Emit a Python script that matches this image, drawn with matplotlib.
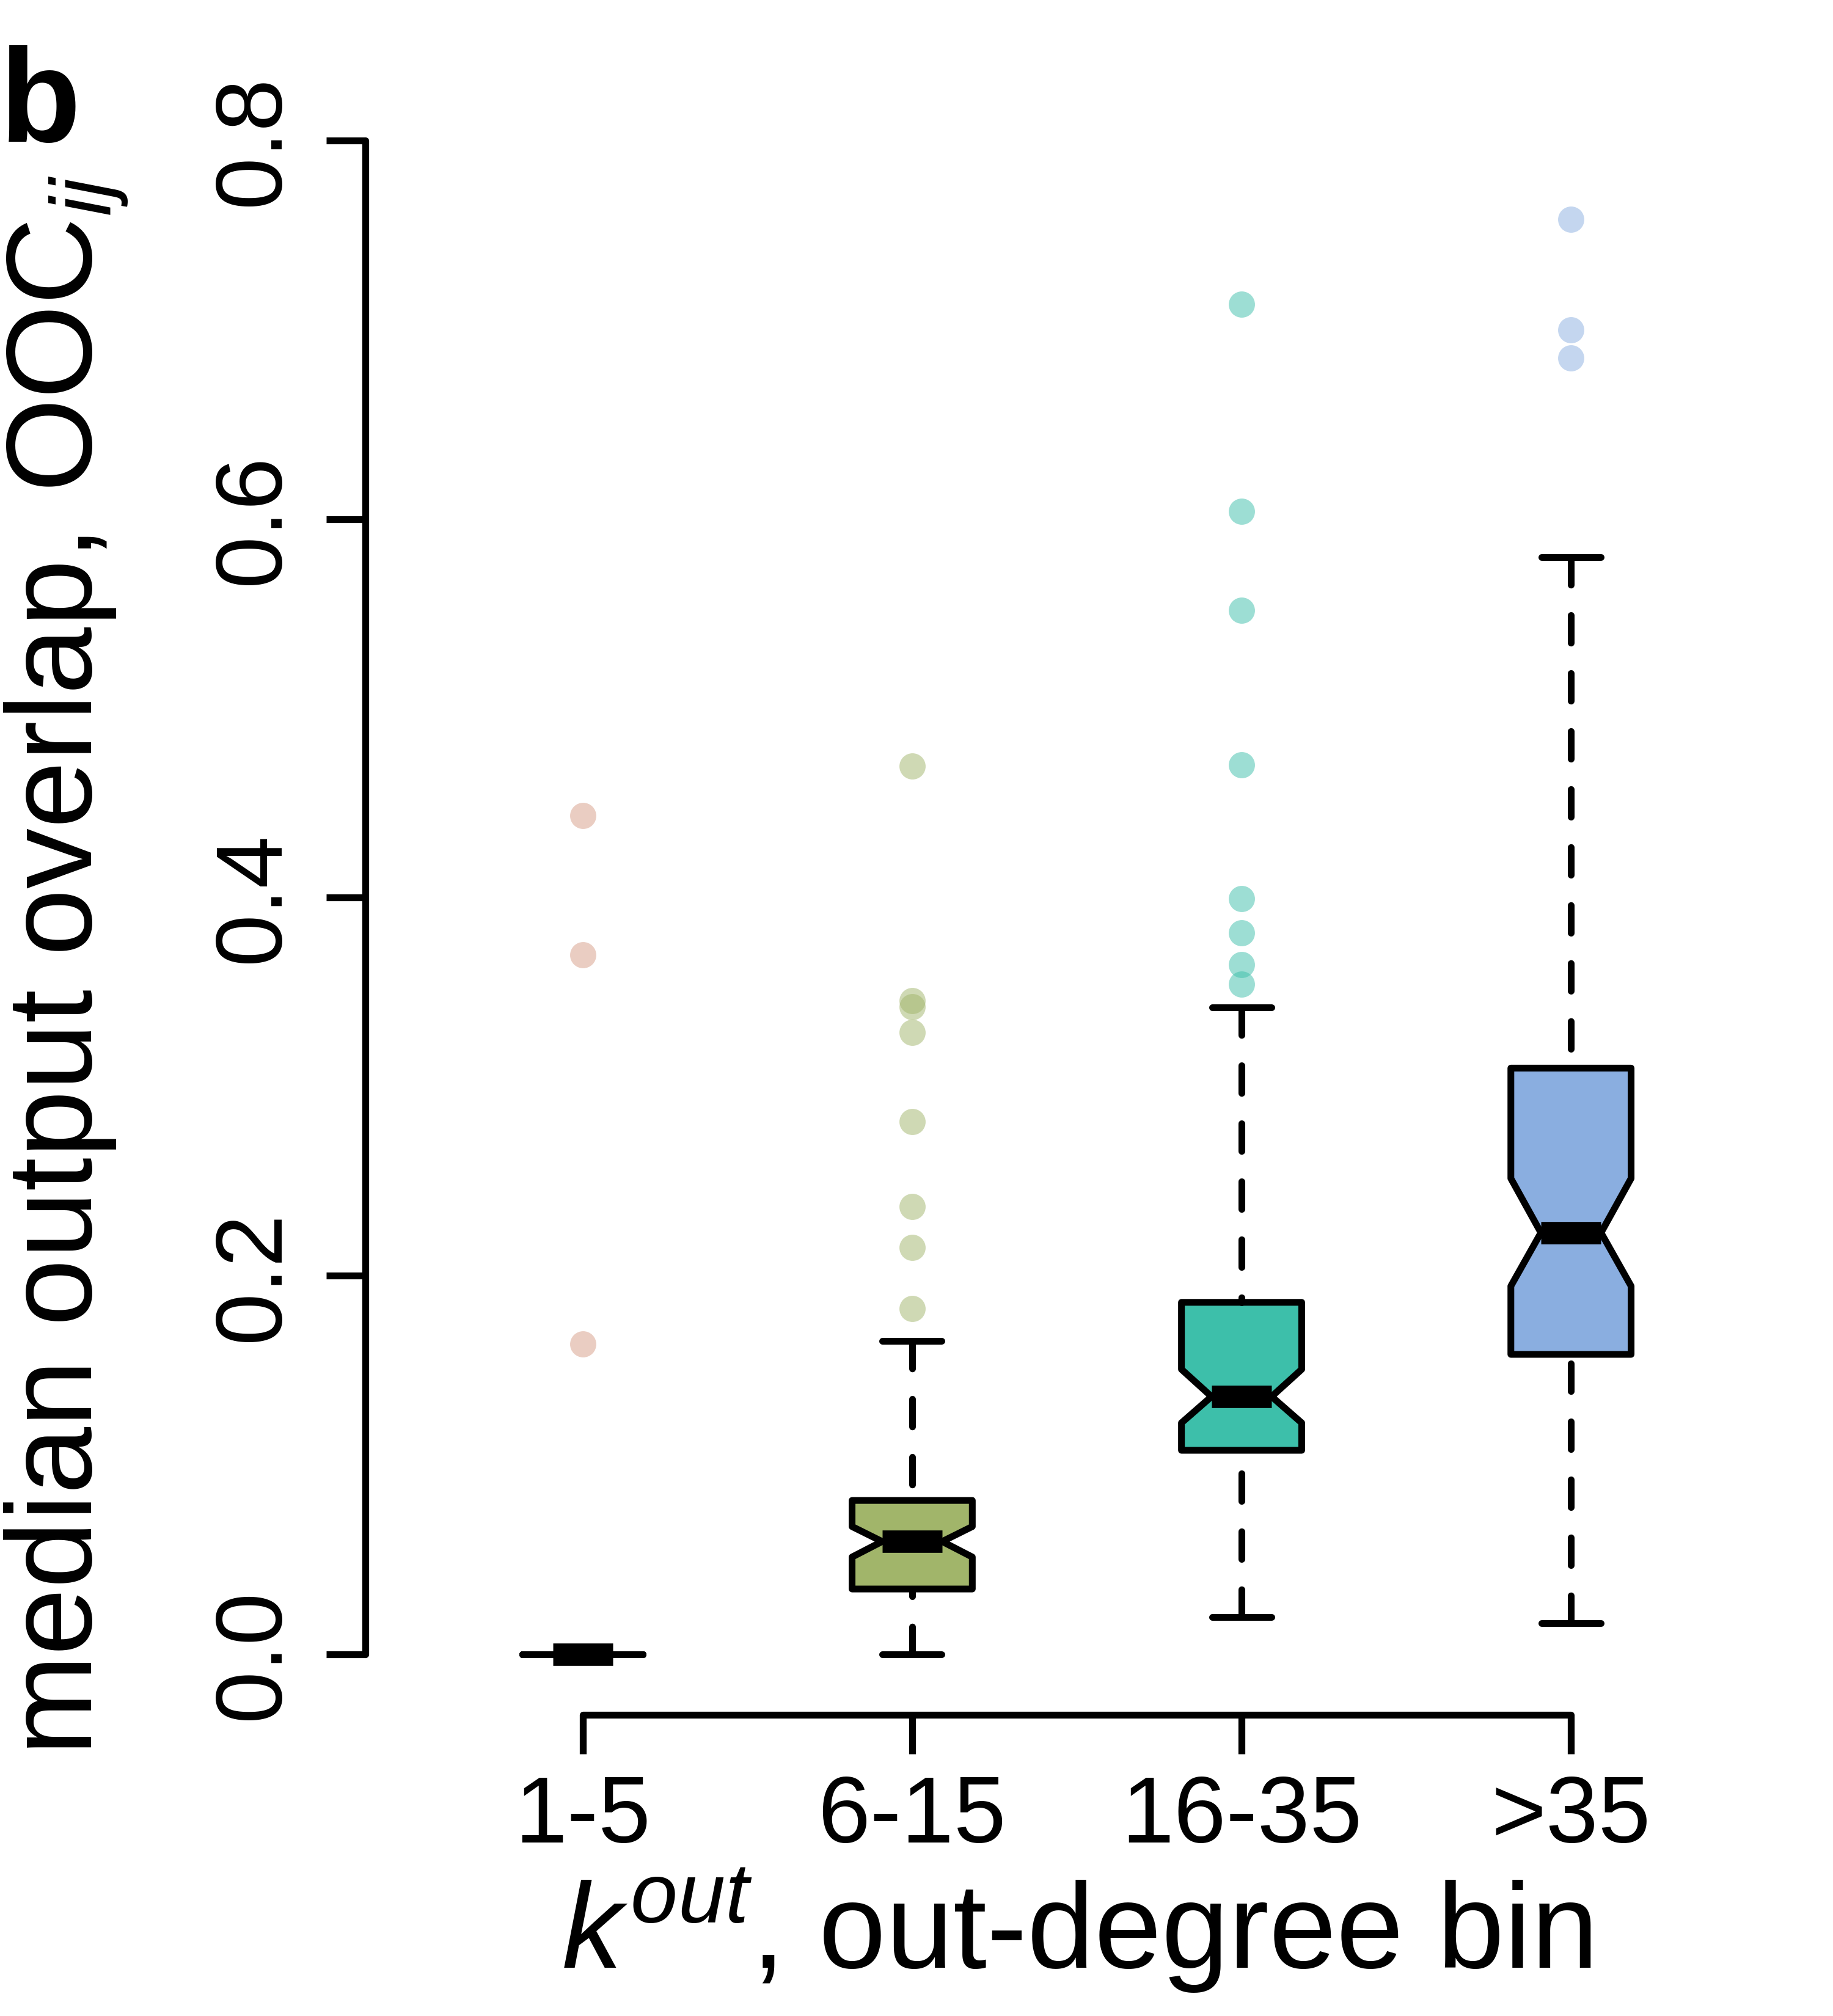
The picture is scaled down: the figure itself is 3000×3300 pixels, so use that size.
import matplotlib
matplotlib.use("Agg")
import matplotlib.pyplot as plt
from matplotlib.colors import to_rgba

plt.rcParams['font.family'] = ['Liberation Sans', 'DejaVu Sans']
plt.rcParams['mathtext.fontset'] = 'custom'
plt.rcParams['mathtext.rm'] = 'Liberation Sans'
plt.rcParams['mathtext.it'] = 'Liberation Sans:italic'
plt.rcParams['mathtext.bf'] = 'Liberation Sans:bold'

# ---- data ----
categories = ['1-5', '6-15', '16-35', '>35']
q1 = [0.0, 0.0345, 0.1078, 0.1585]
median = [0.0, 0.0596, 0.1362, 0.2228]
q3 = [0.0, 0.0813, 0.1860, 0.3098]
whisker_lo = [0.0, 0.0, 0.0197, 0.0165]
whisker_hi = [0.0, 0.1655, 0.3419, 0.5797]
notch_lo = [0.0, 0.0514, 0.1223, 0.1946]
notch_hi = [0.0, 0.0675, 0.1506, 0.2515]
outliers_1_5 = [0.164, 0.3695, 0.4433]
outliers_6_15 = [0.1826, 0.2150, 0.2367, 0.2814, 0.3288, 0.3422, 0.3454, 0.4695]
outliers_16_35 = [0.3542, 0.3644, 0.3813, 0.3995, 0.4700, 0.5516, 0.6042, 0.7135]
outliers_gt35 = [0.6851, 0.7001, 0.7583]
box_colors = ['#D79D87', '#A1B56A', '#3DBFAA', '#8AAEE0']
ytick_values = [0.0, 0.2, 0.4, 0.6, 0.8]
ytick_labels = ['0.0', '0.2', '0.4', '0.6', '0.8']

outliers = [outliers_1_5, outliers_6_15, outliers_16_35, outliers_gt35]
positions = list(range(1, len(categories) + 1))

stats = []
for i in range(len(categories)):
    stats.append(dict(med=median[i], q1=q1[i], q3=q3[i],
                      whislo=whisker_lo[i], whishi=whisker_hi[i],
                      cilo=notch_lo[i], cihi=notch_hi[i],
                      fliers=outliers[i], label=categories[i]))

fig = plt.figure(figsize=(10, 11), dpi=300)
ax = fig.add_axes([0.19933, 0.14939, 0.77633, 0.81091])

LW = 2.65
res = ax.bxp(stats, positions=positions, widths=0.365, capwidths=0.18,
             shownotches=True, patch_artist=True, showfliers=True,
             boxprops=dict(linewidth=LW, edgecolor='black', joinstyle='round'),
             medianprops=dict(linewidth=8.8, color='black', solid_capstyle='butt'),
             whiskerprops=dict(linewidth=LW, color='black',
                               linestyle=(0, (4.1, 4.5)), dash_capstyle='round'),
             capprops=dict(linewidth=LW, color='black', solid_capstyle='round'),
             flierprops=dict(marker='o', markersize=10.3, markeredgecolor='none',
                             linestyle='none'))

for patch, c in zip(res['boxes'], box_colors):
    patch.set_facecolor(c)
# R draws whiskers starting from the whisker end towards the box
for w in res['whiskers']:
    x, y = w.get_data()
    w.set_data(list(x)[::-1], list(y)[::-1])
for fl, c in zip(res['fliers'], box_colors):
    fl.set_markerfacecolor(to_rgba(c, 0.5))
    fl.set_zorder(1)

ax.set_xlim(0.34, 4.66)
ax.set_ylim(-0.032, 0.832)

for s in ['top', 'right']:
    ax.spines[s].set_visible(False)
for s in ['left', 'bottom']:
    ax.spines[s].set_linewidth(2.7)
    ax.spines[s].set_capstyle('round')
ax.spines['left'].set_bounds(ytick_values[0], ytick_values[-1])
ax.spines['bottom'].set_bounds(positions[0], positions[-1])

ax.set_xticks(positions)
ax.set_xticklabels(categories)
ax.set_yticks(ytick_values)
ax.set_yticklabels(ytick_labels, rotation=90, va='center')
ax.tick_params(axis='both', direction='out', length=15.3, width=2.7, labelsize=37)
ax.tick_params(axis='x', pad=8)
ax.tick_params(axis='y', pad=11)

fig.text(0.0503, 0.5212, r'median output overlap, OOC$_{ij}$', rotation=90,
         rotation_mode='anchor', ha='center', va='baseline', fontsize=47.5)
fig.text(0.5873, 0.0236, r'$k^{out}$, out-degree bin', ha='center', va='baseline',
         fontsize=47.5)
fig.text(0.0, 0.9297, 'b', ha='left', va='baseline', fontsize=52, fontweight='bold')

fig.savefig('out.png', dpi=300)
